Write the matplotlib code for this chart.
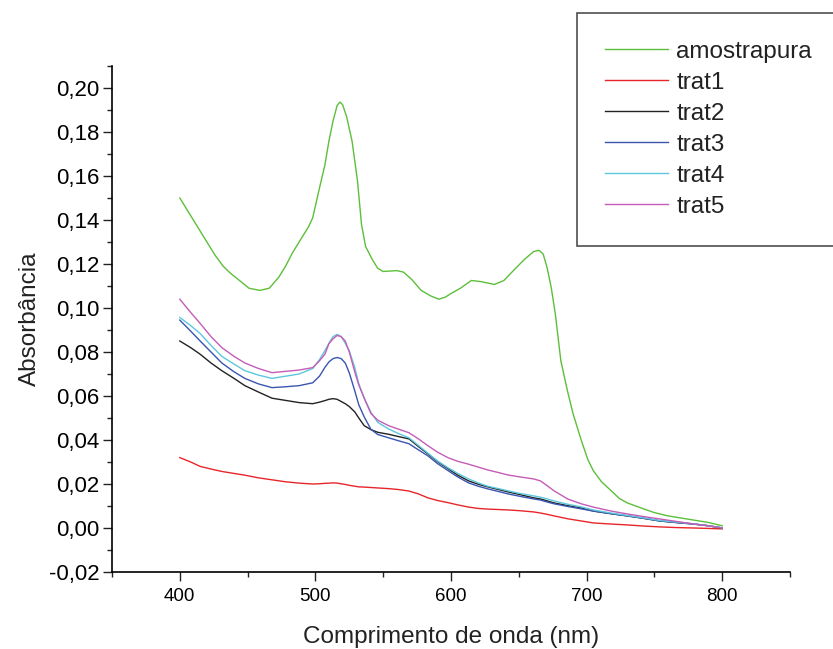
import matplotlib
matplotlib.use("Agg")
import matplotlib.pyplot as plt
from matplotlib.ticker import MultipleLocator, FuncFormatter

plt.rcParams['font.family'] = ['Liberation Sans', 'DejaVu Sans']

# ---- data ----
wl_pura = [400, 405, 410, 415, 420, 426, 432, 437, 444, 451, 459, 466, 473, 478, 483,
           488, 492, 495, 498, 503, 507, 510, 513, 516, 518, 520, 523, 527, 531, 534,
           537, 542, 546, 550, 555, 560, 565, 571, 578, 585, 591, 596, 600, 607, 615,
           622, 632, 639, 646, 654, 661, 665, 668, 671, 674, 677, 681, 686, 690, 696,
           701, 705, 711, 718, 724, 730, 742, 750, 760, 770, 779, 790, 800]
amostrapura = [0.150, 0.145, 0.140, 0.135, 0.130, 0.124, 0.119, 0.116, 0.1125, 0.109,
               0.108, 0.109, 0.114, 0.119, 0.125, 0.130, 0.134, 0.137, 0.141, 0.1545,
               0.165, 0.176, 0.185, 0.192, 0.1936, 0.1925, 0.187, 0.176, 0.158, 0.138,
               0.128, 0.122, 0.118, 0.1166, 0.1168, 0.117, 0.1163, 0.113, 0.108, 0.1055,
               0.104, 0.105, 0.1066, 0.109, 0.1125, 0.112, 0.1107, 0.1125, 0.117, 0.122,
               0.1257, 0.1262, 0.1245, 0.118, 0.109, 0.097, 0.076, 0.062, 0.052, 0.040,
               0.031, 0.026, 0.021, 0.017, 0.0135, 0.0114, 0.0087, 0.0070, 0.0055, 0.0045,
               0.0036, 0.0025, 0.001]

wl = [400, 408, 415, 423, 431, 440, 448, 458, 468, 478, 488, 498, 503, 507, 510, 513,
      516, 519, 522, 525, 529, 532, 536, 541, 546, 554, 561, 569, 576, 583, 590, 598,
      605, 613, 620, 627, 635, 642, 650, 661, 666, 671, 676, 686, 696, 705, 718, 730,
      742, 754, 766, 779, 790, 800]
trat1 = [0.032, 0.030, 0.028, 0.0268, 0.0257, 0.0248, 0.0240, 0.0228, 0.0219, 0.0210,
         0.0204, 0.0200, 0.0201, 0.0203, 0.0204, 0.0205, 0.0204, 0.0201, 0.0198, 0.0194,
         0.0190, 0.0187, 0.0186, 0.0184, 0.0182, 0.0179, 0.0175, 0.0168, 0.0155, 0.0137,
         0.0125, 0.0115, 0.0105, 0.0095, 0.0089, 0.0086, 0.0084, 0.0082, 0.0079, 0.0073,
         0.0068, 0.0062, 0.0055, 0.0042, 0.0032, 0.0023, 0.0018, 0.0014, 0.0009, 0.0005,
         0.0002, 0.0000, -0.0002, -0.0004]
trat2 = [0.085, 0.082, 0.079, 0.075, 0.0715, 0.068, 0.0647, 0.0618, 0.059, 0.058,
         0.057, 0.0565, 0.0572, 0.0579, 0.0585, 0.0588, 0.0585, 0.0575, 0.0565, 0.0552,
         0.0528, 0.0500, 0.0465, 0.0447, 0.0435, 0.0426, 0.0416, 0.0405, 0.037, 0.0337,
         0.0302, 0.0269, 0.024, 0.0214, 0.0199, 0.0187, 0.0175, 0.0164, 0.0153, 0.0137,
         0.0132, 0.0123, 0.0114, 0.0102, 0.0091, 0.0077, 0.0065, 0.0055, 0.0044, 0.0032,
         0.0025, 0.0018, 0.0010, 0.0000]
trat3 = [0.0945, 0.0895, 0.085, 0.080, 0.075, 0.071, 0.068, 0.0655, 0.0638, 0.0642,
         0.0647, 0.066, 0.069, 0.073, 0.0755, 0.077, 0.0775, 0.077, 0.075, 0.0705,
         0.0624, 0.056, 0.0505, 0.0448, 0.0425, 0.041, 0.0397, 0.0383, 0.0355, 0.0328,
         0.0293, 0.026, 0.0232, 0.0205, 0.019, 0.0178, 0.0166, 0.0155, 0.0145, 0.0132,
         0.0127, 0.0118, 0.011, 0.0098, 0.0087, 0.0077, 0.0065, 0.0055, 0.0044, 0.0032,
         0.0025, 0.0018, 0.0010, 0.0000]
trat4 = [0.0957, 0.092, 0.0884, 0.083, 0.078, 0.0745, 0.0715, 0.0695, 0.068, 0.069,
         0.070, 0.0725, 0.0765, 0.0806, 0.084, 0.087, 0.088, 0.087, 0.084, 0.0805,
         0.073, 0.0656, 0.059, 0.0525, 0.048, 0.045, 0.043, 0.041, 0.0375, 0.034,
         0.0305, 0.0273, 0.0248, 0.0223, 0.0205, 0.019, 0.0179, 0.0169, 0.0158, 0.0146,
         0.0140, 0.0132, 0.0123, 0.0108, 0.0096, 0.0082, 0.0068, 0.0057, 0.0046, 0.0034,
         0.0027, 0.0019, 0.0010, 0.0001]
trat5 = [0.104, 0.098, 0.093, 0.087, 0.082, 0.078, 0.075, 0.0725, 0.0706, 0.0712,
         0.0718, 0.0729, 0.076, 0.079, 0.0838, 0.086, 0.0875, 0.087, 0.085, 0.080,
         0.071, 0.065, 0.059, 0.052, 0.049, 0.0465, 0.045, 0.0433, 0.0405, 0.0374,
         0.0345, 0.0319, 0.0303, 0.029, 0.0277, 0.0264, 0.0252, 0.0241, 0.0233, 0.0223,
         0.0214, 0.0192, 0.0169, 0.0132, 0.011, 0.0095, 0.0077, 0.0064, 0.0052, 0.0041,
         0.003, 0.0018, 0.0010, 0.0000]

labels = ['amostrapura', 'trat1', 'trat2', 'trat3', 'trat4', 'trat5']
colors = ['#5cbf3a', '#e8262a', '#222222', '#3a55b0', '#5cc8dc', '#c45cb8']

xticks = [400, 500, 600, 700, 800]
yticks = [-0.02, 0.00, 0.02, 0.04, 0.06, 0.08, 0.10, 0.12, 0.14, 0.16, 0.18, 0.20]

# ---- figure ----
fig = plt.figure(figsize=(8.33, 6.49), dpi=100)
ax = fig.add_axes([112 / 833, 1 - 572 / 649, (790 - 112) / 833, (572 - 66) / 649])

series = [(wl_pura, amostrapura)] + [(wl, s) for s in (trat1, trat2, trat3, trat4, trat5)]
handles = []
for (x, y), lab, c in zip(series, labels, colors):
    h, = ax.plot(x, y, color=c, lw=1.0, label=lab)
    handles.append(h)

ax.set_xlim(350, 850)
ax.set_ylim(-0.02, 0.21)
ax.set_xticks(xticks)
ax.set_yticks(yticks)
ax.xaxis.set_minor_locator(MultipleLocator(50))
ax.yaxis.set_minor_locator(MultipleLocator(0.01))
ax.yaxis.set_major_formatter(FuncFormatter(lambda v, p: f"{v:.2f}".replace('.', ',')))
ax.xaxis.set_major_formatter(FuncFormatter(lambda v, p: f"{v:.0f}"))

for s in ('top', 'right'):
    ax.spines[s].set_visible(False)
for s in ('left', 'bottom'):
    ax.spines[s].set_linewidth(1.2)

ax.tick_params(which='major', direction='out', length=6.8, width=1.0, color='#222222')
ax.tick_params(which='minor', direction='out', length=3.3, width=1.0, color='#222222')
ax.tick_params(axis='x', which='major', pad=5, labelsize=13.5)
ax.tick_params(axis='y', which='major', pad=2, labelsize=16)

ax.set_xlabel('Comprimento de onda (nm)', fontsize=17.5, labelpad=15, color='#222222')
ax.set_ylabel('Absorbância', fontsize=17.5, labelpad=6, color='#222222')

leg = fig.legend(handles=handles, labels=labels, loc='upper left',
                 bbox_to_anchor=(577 / 833, 1 - 13 / 649), bbox_transform=fig.transFigure,
                 fontsize=17.5, frameon=True, fancybox=False, borderpad=1.15,
                 handlelength=2.6, handletextpad=0.33, labelspacing=0.37,
                 borderaxespad=0)
leg.get_frame().set_edgecolor('#222222')
leg.get_frame().set_linewidth(1.2)
for t in leg.get_texts():
    t.set_color('#222222')

fig.savefig('out.png', dpi=100)
